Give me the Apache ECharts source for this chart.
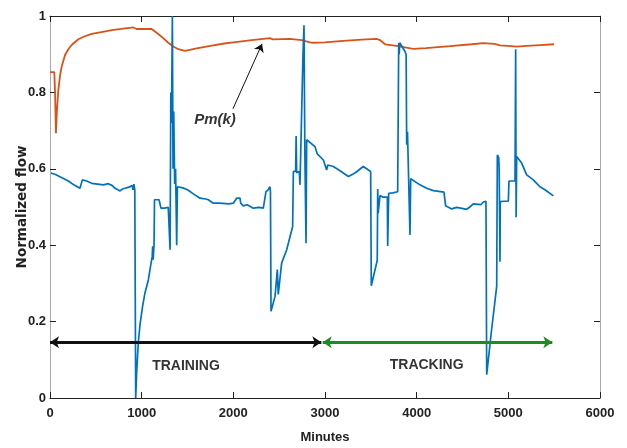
<!DOCTYPE html>
<html><head><meta charset="utf-8">
<script src="https://cdn.jsdelivr.net/npm/echarts@6/dist/echarts.min.js"></script>
<style>html,body{margin:0;padding:0;background:#fff}#c{width:627px;height:448px}</style>
</head><body><div id="c"></div>
<script>
// Blue: measured normalized flow
const flowMinutes = [10,60,120,200,260,327,340,353,400,455,520,582,636,680,709,740,764,790,818,860,898,905,915,925,933,
  935,945,963,982,1010,1036,1073,1100,1115,1120,1125,1135,1140,1160,1190,1200,1210,1250,1290,1300,1310,1318,1325,1335,1342,1350,1360,1370,1382,1390,
  1450,1500,1560,1636,1700,1727,1782,1850,1950,2000,2036,2073,2080,2109,2150,2218,2280,2327,2345,2356,2380,2400,2405,
  2411,2455,2480,2490,2527,2582,2647,2655,2680,2685,2691,2720,2727,2745,2760,2771,2780,2793,2800,2818,2891,2916,2982,3018,3030,3091,3164,3255,3327,3418,3498,3503,
  3505,3540,3570,3575,3580,3600,3629,3680,3684,3695,3740,3793,3804,3810,3815,3873,3885,3891,3900,3920,3927,3935,4036,4109,4182,4298,4316,4382,4436,4480,4545,4580,4618,4636,4700,4727,4756,
  4764,4818,4873,4880,4895,4900,4909,4912,4950,5000,5007,5073,5080,5085,5091,5145,5200,5273,5309,5345,5400,5491];
const flowValues = [0.589,0.585,0.578,0.568,0.558,0.549,0.552,0.571,0.568,0.562,0.560,0.558,0.561,0.556,0.549,0.545,0.542,0.547,0.549,0.552,0.556,0.545,0.560,0.545,0.540,
  0.0,0.065,0.144,0.192,0.240,0.275,0.309,0.350,0.370,0.397,0.362,0.400,0.519,0.522,0.519,0.516,0.497,0.497,0.499,0.497,0.388,0.800,0.720,1.0,0.600,0.750,0.560,0.600,0.400,0.553,
  0.550,0.545,0.535,0.523,0.521,0.519,0.510,0.510,0.508,0.510,0.523,0.523,0.510,0.503,0.506,0.497,0.499,0.497,0.500,0.540,0.545,0.553,0.540,
  0.227,0.266,0.336,0.271,0.353,0.388,0.449,0.593,0.593,0.686,0.590,0.593,0.558,0.560,0.900,0.976,0.650,0.405,0.676,0.671,0.658,0.639,0.623,0.597,0.610,0.606,0.595,0.580,0.589,0.606,0.593,0.590,
  0.294,0.330,0.360,0.547,0.484,0.530,0.526,0.526,0.398,0.536,0.537,0.540,0.929,0.900,0.930,0.907,0.900,0.663,0.697,0.697,0.427,0.574,0.558,0.549,0.543,0.539,0.503,0.495,0.499,0.497,0.494,0.500,0.508,0.506,0.506,0.513,0.515,
  0.061,0.180,0.292,0.636,0.630,0.600,0.357,0.514,0.515,0.515,0.568,0.568,0.913,0.473,0.632,0.615,0.584,0.571,0.562,0.553,0.545,0.529];
// Orange: Pm(k)
const pmMinutes = [0,47,55,65,75,91,110,127,164,200,236,309,380,455,560,673,800,909,945,1109,1170,1236,1290,1345,1400,1473,1600,1750,1900,2000,2200,2400,2430,2618,2745,2836,2873,3000,3200,3400,3564,3600,3655,3782,3964,4100,4364,4600,4727,4850,4909,5000,5091,5200,5350,5498];
const pmValues = [0.853,0.853,0.800,0.693,0.750,0.806,0.845,0.867,0.898,0.913,0.924,0.939,0.947,0.953,0.958,0.963,0.967,0.970,0.966,0.966,0.955,0.942,0.930,0.920,0.913,0.909,0.915,0.922,0.928,0.931,0.937,0.942,0.939,0.940,0.937,0.931,0.930,0.931,0.935,0.938,0.940,0.937,0.926,0.922,0.914,0.916,0.921,0.926,0.929,0.927,0.923,0.922,0.920,0.922,0.924,0.926];

const xTicks = [0,1000,2000,3000,4000,5000,6000];
const yTicks = [0,0.2,0.4,0.6,0.8,1];

const trainingSpan = [0, 2960];
const trackingSpan = [2975, 5480];
const spanLevel = 0.146;
const pmArrowFrom = [1996, 0.757];
const pmArrowTo = [2313, 0.927];
const annotationTexts = ['TRAINING','TRACKING','Pm(k)'];
const annotationPos = [[1484,0.084],[4109,0.087],[1800,0.728]];

const sans = "'Liberation Sans',Arial,sans-serif";
const zip = (a,b) => a.map((v,i)=>[v,b[i]]);
const tick = () => ({show:true, inside:true, length:6, lineStyle:{color:'#222', width:1}});

const chart = echarts.init(document.getElementById('c'), null, {renderer:'canvas'});
chart.setOption({
  animation:false,
  grid:{left:50,right:27,top:16,bottom:50,containLabel:false,outerBoundsMode:'none'},
  xAxis:[
    {type:'value', position:'bottom', min:xTicks[0], max:xTicks[xTicks.length-1], interval:1000,
      splitLine:{show:false}, axisTick:tick(),
      axisLine:{onZero:false, lineStyle:{color:'#222',width:1.2}},
      axisLabel:{fontFamily:sans, fontSize:13, fontWeight:'bold', color:'#222', margin:9, formatter:v=>String(v)},
      name:'Minutes', nameLocation:'middle', nameGap:33, nameMoveOverlap:false,
      nameTextStyle:{fontFamily:sans, fontSize:13, fontWeight:'bold', color:'#222'}},
    {type:'value', position:'top', min:xTicks[0], max:xTicks[xTicks.length-1], interval:1000,
      splitLine:{show:false}, axisTick:tick(),
      axisLine:{onZero:false, lineStyle:{color:'#222',width:1.2}}, axisLabel:{show:false}}
  ],
  yAxis:[
    {type:'value', position:'left', min:yTicks[0], max:yTicks[yTicks.length-1], interval:0.2,
      splitLine:{show:false}, axisTick:tick(),
      axisLine:{onZero:false, lineStyle:{color:'#aaa',width:1}},
      axisLabel:{fontFamily:sans, fontSize:13, fontWeight:'bold', color:'#222', margin:4, formatter:v=>String(+v.toFixed(1))},
      name:'Normalized flow', nameLocation:'middle', nameGap:21, nameMoveOverlap:false,
      nameTextStyle:{fontFamily:"'DejaVu Sans',sans-serif", fontSize:13.5, fontWeight:'bold', color:'#222'}},
    {type:'value', position:'right', min:yTicks[0], max:yTicks[yTicks.length-1], interval:0.2,
      splitLine:{show:false}, axisTick:tick(),
      axisLine:{onZero:false, lineStyle:{color:'#aaa',width:1}}, axisLabel:{show:false}}
  ],
  series:[
    {type:'line', data:zip(pmMinutes,pmValues), showSymbol:false, symbol:'none',
      lineStyle:{color:'#D95319', width:1.8}, z:2},
    {type:'line', data:zip(flowMinutes,flowValues), showSymbol:false, symbol:'none',
      lineStyle:{color:'#0072BD', width:1.7}, z:3},
    {type:'lines', coordinateSystem:'cartesian2d', symbol:['arrow','arrow'], symbolSize:[9,9], z:4,
      lineStyle:{color:'#111', width:3, opacity:1},
      data:[{coords:[[trainingSpan[0],spanLevel],[trainingSpan[1],spanLevel]]}]},
    {type:'lines', coordinateSystem:'cartesian2d', symbol:['arrow','arrow'], symbolSize:[9,9], z:4,
      lineStyle:{color:'#1e8c1e', width:3, opacity:1},
      data:[{coords:[[trackingSpan[0],spanLevel],[trackingSpan[1],spanLevel]]}]},
    {type:'lines', coordinateSystem:'cartesian2d', symbol:['none','arrow'], symbolSize:[0,8], z:4,
      lineStyle:{color:'#111', width:1, opacity:1},
      data:[{coords:[pmArrowFrom, pmArrowTo]}]},
    {type:'scatter', symbolSize:0, z:5, silent:true,
      data:annotationPos.map((p,i)=>({value:p, label:{show:true, position:'inside', formatter:annotationTexts[i],
        fontFamily:sans, fontSize: i<2 ? 14 : 15, fontWeight:'bold', fontStyle: i<2 ? 'normal' : 'italic',
        color:'#000', textBorderWidth:0}}))}
  ]
});
</script>
</body></html>
